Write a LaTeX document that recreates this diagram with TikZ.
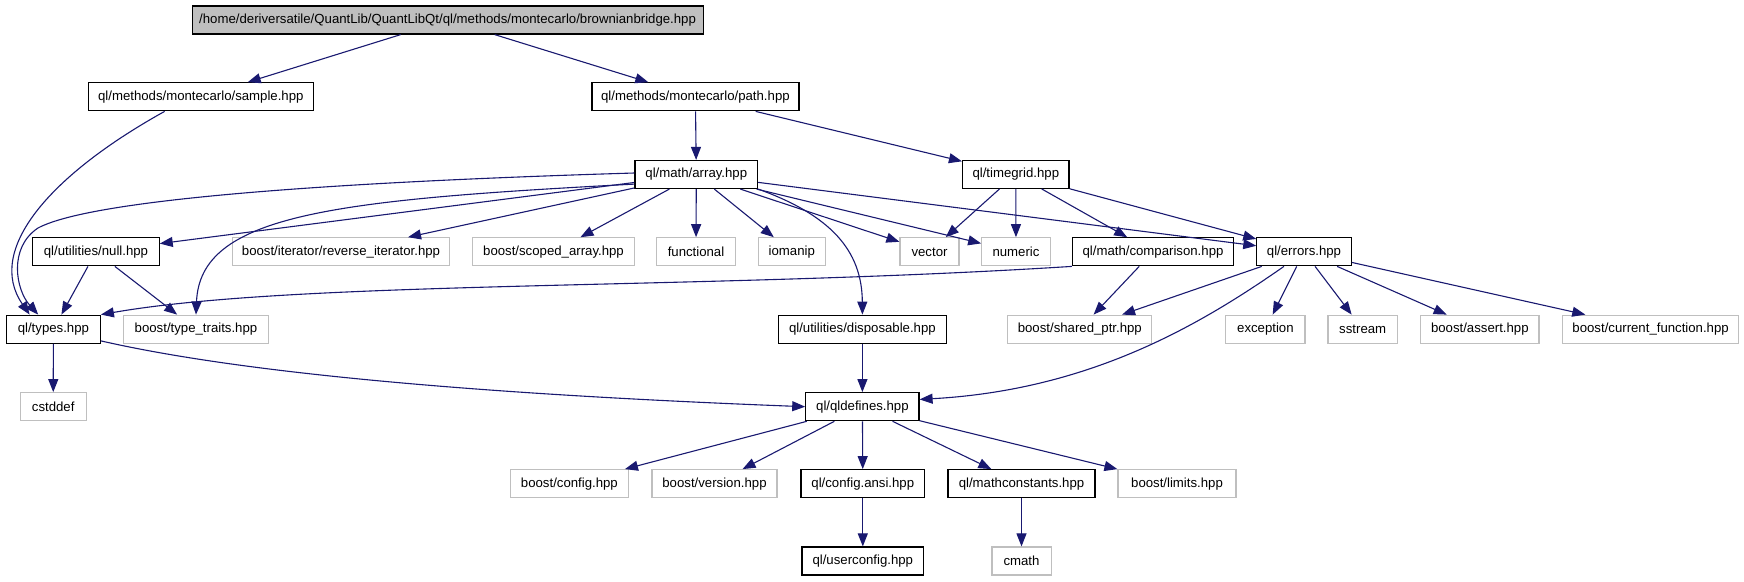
\documentclass[tikz,border=0pt]{standalone}
\usepackage{fontspec}
\setmainfont{Liberation Sans}
\usetikzlibrary{arrows.meta,calc}
\definecolor{edgeblue}{HTML}{191970}
\definecolor{lightframe}{HTML}{BFBFBF}
\tikzset{
  box/.style={draw=black, line width=1.2pt, minimum height=28pt, inner sep=0pt, font=\fontsize{13.2}{15}\selectfont, text=black},
  extbox/.style={box, draw=lightframe},
  rootbox/.style={box, fill=lightframe},
  edge/.style={draw=edgeblue, line width=1.1pt, -{Triangle[length=13pt,width=10pt]}},
}
\begin{document}
\begin{tikzpicture}[x=1pt,y=-1pt]
\useasboundingbox (0,0) rectangle (1744,581);
% row 0
\node[rootbox, minimum width=511pt] (top) at (447.6,20) {/home/deriversatile/QuantLib/QuantLibQt/ql/methods/montecarlo/brownianbridge.hpp};
% row 1
\node[box, minimum width=225pt] (sample) at (200.8,96.8) {ql/methods/montecarlo/sample.hpp};
\node[box, minimum width=207pt] (path) at (695.4,96.8) {ql/methods/montecarlo/path.hpp};
% row 2
\node[box, minimum width=122.6pt] (array) at (696.3,174.5) {ql/math/array.hpp};
\node[box, minimum width=106.5pt] (timegrid) at (1015.8,174.3) {ql/timegrid.hpp};
% row 3
\node[box, minimum width=126.3pt] (null) at (96,251.8) {ql/utilities/null.hpp};
\node[extbox, minimum width=217.7pt] (reverse) at (341,251.8) {boost/iterator/reverse\_iterator.hpp};
\node[extbox, minimum width=161.7pt] (scoped) at (553.5,251.8) {boost/scoped\_array.hpp};
\node[extbox, minimum width=79pt] (functional) at (696,251.8) {functional};
\node[extbox, minimum width=67pt] (iomanip) at (791.8,251.8) {iomanip};
\node[extbox, minimum width=59pt] (vector) at (929.5,251.8) {vector};
\node[extbox, minimum width=68.5pt] (numeric) at (1016,251.8) {numeric};
\node[box, minimum width=161.2pt] (comparison) at (1153,251.8) {ql/math/comparison.hpp};
\node[box, minimum width=94.3pt] (errors) at (1304,251.8) {ql/errors.hpp};
% row 4
\node[box, minimum width=93.8pt] (types) at (53.4,329.2) {ql/types.hpp};
\node[extbox, minimum width=144.7pt] (typetraits) at (196,329.2) {boost/type\_traits.hpp};
\node[box, minimum width=168.4pt] (disposable) at (862.4,329.2) {ql/utilities/disposable.hpp};
\node[extbox, minimum width=144pt] (sharedptr) at (1079.8,329.2) {boost/shared\_ptr.hpp};
\node[extbox, minimum width=79.2pt] (exception) at (1265.4,329.2) {exception};
\node[extbox, minimum width=69.4pt] (sstream) at (1362.7,329.2) {sstream};
\node[extbox, minimum width=118.5pt] (assert) at (1479.8,329.2) {boost/assert.hpp};
\node[extbox, minimum width=176.2pt] (curfunc) at (1650.6,329.2) {boost/current\_function.hpp};
% row 5
\node[extbox, minimum width=65.8pt] (cstddef) at (53.2,406.7) {cstddef};
\node[box, minimum width=113.2pt] (qldefines) at (862.4,406.7) {ql/qldefines.hpp};
% row 6
\node[extbox, minimum width=118.4pt] (config) at (569.4,483.7) {boost/config.hpp};
\node[extbox, minimum width=125pt] (version) at (714.5,483.7) {boost/version.hpp};
\node[box, minimum width=123.5pt] (configansi) at (862.8,483.7) {ql/config.ansi.hpp};
\node[box, minimum width=147pt] (mathconst) at (1021.5,483.7) {ql/mathconstants.hpp};
\node[extbox, minimum width=118pt] (limits) at (1177,483.7) {boost/limits.hpp};
% row 7
\node[box, minimum width=121.5pt] (userconfig) at (862.8,561) {ql/userconfig.hpp};
\node[extbox, minimum width=59.2pt] (cmath) at (1021.5,561) {cmath};

% straight edges
\draw[edge] (top) -- (sample);
\draw[edge] (top) -- (path);
\draw[edge] (path) -- (array);
\draw[edge] (path) -- (timegrid);
\draw[edge] (array) -- (null);
\draw[edge] (array) -- (reverse);
\draw[edge] (array) -- (scoped);
\draw[edge] (array) -- (functional);
\draw[edge] (array) -- (iomanip);
\draw[edge] (array) -- (vector);
\draw[edge] (array) -- (numeric);
\draw[edge] (array) -- (errors);
\draw[edge] (timegrid) -- (vector);
\draw[edge] (timegrid) -- (numeric);
\draw[edge] (timegrid) -- (comparison);
\draw[edge] (timegrid) -- (errors);
\draw[edge] (null) -- (types);
\draw[edge] (null) -- (typetraits);
\draw[edge] (comparison) -- (sharedptr);
\draw[edge] (errors) -- (sharedptr);
\draw[edge] (errors) -- (exception);
\draw[edge] (errors) -- (sstream);
\draw[edge] (errors) -- (assert);
\draw[edge] (errors) -- (curfunc);
\draw[edge] (types) -- (cstddef);
\draw[edge] (disposable) -- (qldefines);
\draw[edge] (qldefines) -- (config);
\draw[edge] (qldefines) -- (version);
\draw[edge] (qldefines) -- (configansi);
\draw[edge] (qldefines) -- (mathconst);
\draw[edge] (qldefines) -- (limits);
\draw[edge] (configansi) -- (userconfig);
\draw[edge] (mathconst) -- (cmath);

% curved edges
\draw[edge] ($(sample.south west)!0.34!(sample.south east)$) .. controls (50,175) and (-15,250) .. ($(types.north west)!0.25!(types.north east)$);
\draw[edge] ($(array.west)+(0,-1.5)$) .. controls (400,180) and (100,195) .. (38,228) .. controls (8,248) and (16,290) .. ($(types.north west)!0.34!(types.north east)$);
\draw[edge] ($(array.south west)+(0,-5)$) .. controls (330,200) and (200,215) .. (typetraits.north);
\draw[edge] (array.south east) .. controls (830,215) and (862,250) .. (disposable.north);
\draw[edge] (comparison.south west) .. controls (700,290) and (300,280) .. (types.north east);
\draw[edge] ($(errors.south west)!0.29!(errors.south east)$) .. controls (1200,325) and (1090,390) .. ($(qldefines.north east)!0.25!(qldefines.south east)$);
\draw[edge] ($(types.north east)!0.9!(types.south east)$) .. controls (250,375) and (500,395) .. (qldefines.west);
\end{tikzpicture}
\end{document}
